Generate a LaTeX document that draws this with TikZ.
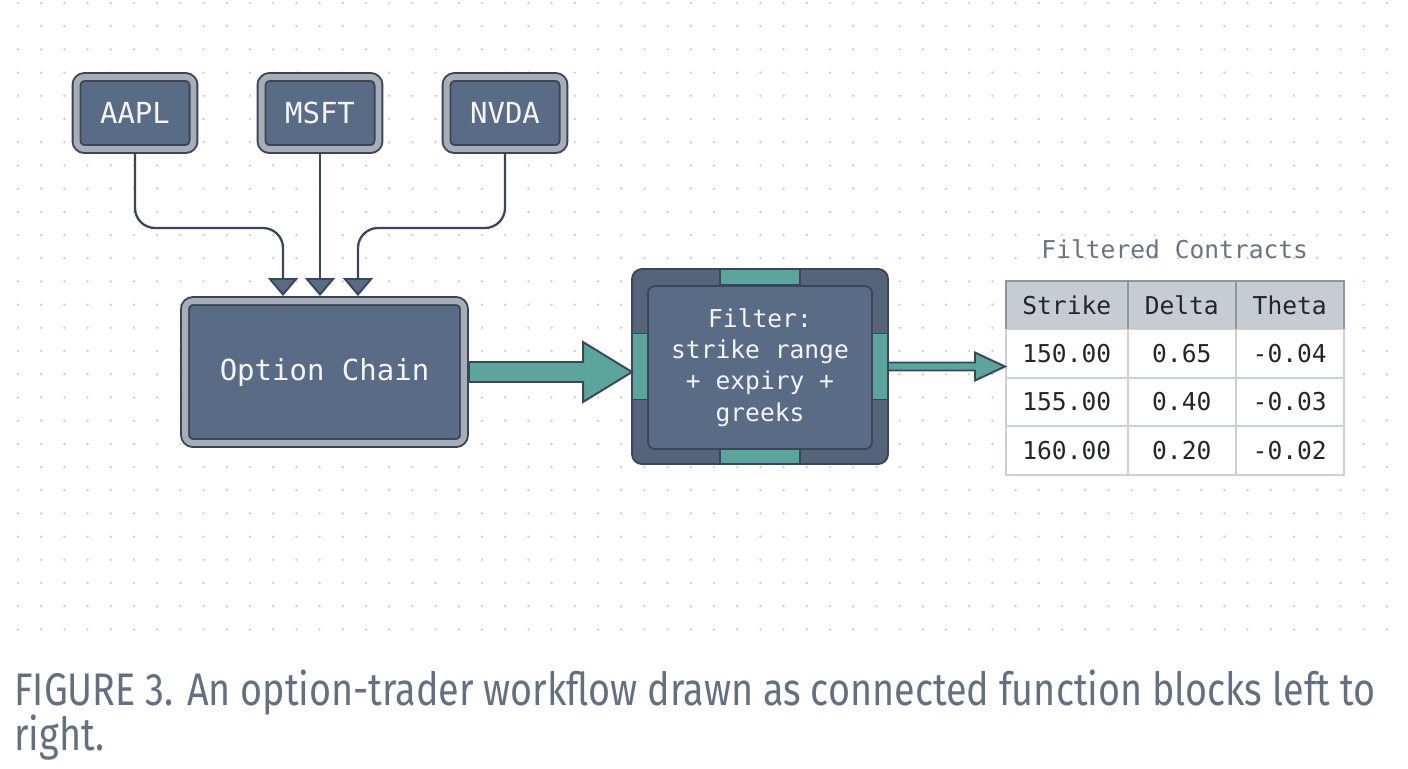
\documentclass[tikz,border=0pt]{standalone}
\usepackage{fontspec}
\setmonofont{DejaVu Sans Mono}
\newfontfamily\capfont[FakeStretch=0.826]{Fira Sans}
\usetikzlibrary{arrows.meta,positioning,calc,matrix}

\definecolor{edge}{HTML}{3B4658}
\definecolor{slate}{HTML}{5A6B85}
\definecolor{slatedark}{HTML}{55647B}
\definecolor{rim}{HTML}{A7AEB8}
\definecolor{tealc}{HTML}{5BA59C}
\definecolor{dotc}{HTML}{C4C7CC}
\definecolor{headc}{HTML}{C7CBD2}
\definecolor{headedge}{HTML}{8E959F}
\definecolor{gridc}{HTML}{CDD1D6}
\definecolor{ink}{HTML}{22262B}
\definecolor{mute}{HTML}{6B7380}
\definecolor{capc}{HTML}{647080}
\definecolor{label}{HTML}{F3F5F8}

\newcommand{\labfont}{\ttfamily\fontsize{16.5}{19}\selectfont}
\newcommand{\filtfont}{\ttfamily\fontsize{14}{17.8}\selectfont}
\newcommand{\tabfont}{\ttfamily\fontsize{14}{17}\selectfont}

\tikzset{
  src/.style={draw=edge, line width=1.1pt, double=rim, double distance=3.4pt,
    fill=slate, rounded corners=0.16cm, minimum width=2.34cm, minimum height=1.44cm,
    outer sep=0.1cm, text=label, font=\labfont},
  chainbox/.style={src, minimum width=5.58cm, minimum height=2.84cm},
  filtbox/.style={draw=edge, line width=1.1pt, fill=slatedark, rounded corners=0.2cm,
    minimum width=5.12cm, minimum height=3.9cm, outer sep=0pt},
  filtin/.style={draw=edge, line width=1.1pt, fill=slate, rounded corners=0.14cm,
    minimum width=4.48cm, minimum height=3.26cm, align=center, text=label, font=\filtfont},
  tab/.style={draw=edge, line width=1.1pt, fill=tealc},
  feed/.style={draw=edge, line width=1.3pt, rounded corners=0.4cm,
    -{Triangle[width=0.6cm,length=0.36cm,fill=slate,line width=1.1pt]}},
  flow/.style={draw=edge, line width=1.1pt, fill=tealc, line join=miter},
  cell/.style={draw=gridc, fill=white, line width=0.9pt, minimum height=0.97cm,
    anchor=center, text=ink, font=\tabfont, inner sep=0pt},
  headcell/.style={cell, draw=headedge, fill=headc},
  caption/.style={text=capc, font=\capfont\fontsize{26}{30}\selectfont, inner sep=0pt}
}

\begin{document}
\begin{tikzpicture}[x=0.02cm,y=-0.02cm]
  \useasboundingbox (0,0) rectangle (1408,768);
  \fill[white] (0,0) rectangle (1408,768);
  \foreach \i in {0,...,59}
    \foreach \j in {0,...,27}
      \fill[dotc] ({18+23.2*\i},{3+23.2*\j}) circle (0.024cm);

  \node[src] (aapl) at (135,113) {AAPL};
  \node[src] (msft) at (320,113) {MSFT};
  \node[src] (nvda) at (505,113) {NVDA};
  \node[chainbox] (chain) at (324.5,372) {Option Chain};

  \draw[feed] (aapl.south) -- ++(0,74) -| ([xshift=-0.83cm]chain.north);
  \draw[feed] (msft.south) -- (msft.south |- chain.north);
  \draw[feed] (nvda.south) -- ++(0,74) -| ([xshift=0.67cm]chain.north);

  \node[filtbox] (filt) at (760,366.5) {};
  \draw[tab] ([xshift=-0.8cm]filt.north) rectangle ([xshift=0.8cm,yshift=-0.32cm]filt.north);
  \draw[tab] ([xshift=-0.8cm]filt.south) rectangle ([xshift=0.8cm,yshift=0.32cm]filt.south);
  \draw[tab] ([yshift=0.66cm]filt.west) rectangle ([xshift=0.32cm,yshift=-0.66cm]filt.west);
  \draw[tab] ([yshift=0.66cm]filt.east) rectangle ([xshift=-0.32cm,yshift=-0.66cm]filt.east);
  \node[filtin] (rule) at ([yshift=-0.02cm]filt) {Filter:\\strike range\\+ expiry +\\greeks};

  \coordinate (tipA) at (filt.west |- chain.east);
  \draw[flow] ([yshift=0.2cm]chain.east) -- ([xshift=-0.98cm,yshift=0.2cm]tipA)
    -- ([xshift=-0.98cm,yshift=0.6cm]tipA) -- (tipA)
    -- ([xshift=-0.98cm,yshift=-0.6cm]tipA) -- ([xshift=-0.98cm,yshift=-0.2cm]tipA)
    -- ([yshift=-0.2cm]chain.east) -- cycle;

  \matrix (tbl) [matrix of nodes, anchor=north west, inner sep=0pt, outer sep=0pt,
      column sep=-0.9pt, row sep=-0.9pt, nodes={cell},
      row 1/.style={nodes={headcell}},
      column 1/.style={nodes={minimum width=2.44cm}},
      column 2/.style={nodes={minimum width=2.16cm}},
      column 3/.style={nodes={minimum width=2.16cm}}] at (1005,280) {
    Strike & Delta & Theta \\
    150.00 & 0.65 & -0.04 \\
    155.00 & 0.40 & -0.03 \\
    160.00 & 0.20 & -0.02 \\
  };
  \node[text=mute, font=\tabfont, above=0.3cm of tbl] (ttl) {Filtered Contracts};

  \coordinate (tipB) at (tbl.west |- filt.east);
  \draw[flow] ([yshift=0.08cm]filt.east) -- ([xshift=-0.6cm,yshift=0.08cm]tipB)
    -- ([xshift=-0.6cm,yshift=0.28cm]tipB) -- (tipB)
    -- ([xshift=-0.6cm,yshift=-0.28cm]tipB) -- ([xshift=-0.6cm,yshift=-0.08cm]tipB)
    -- ([yshift=-0.08cm]filt.east) -- cycle;

  \node[caption, anchor=base west] (cap1) at (14,705)
    {FIGURE 3. An option-trader workflow drawn as connected function blocks left to};
  \node[caption, anchor=base west] (cap2) at (14,750) {right.};
\end{tikzpicture}
\end{document}
